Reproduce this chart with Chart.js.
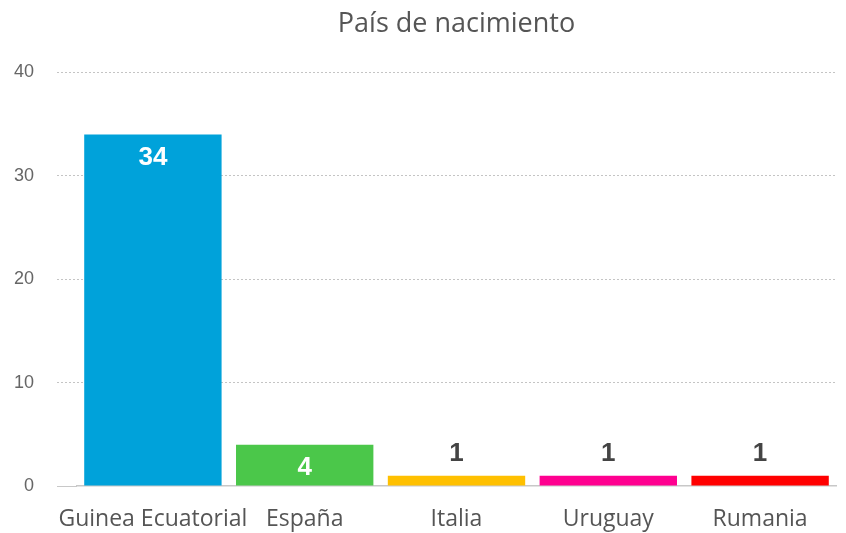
<!DOCTYPE html>
<html><head><meta charset="utf-8">
<script src="https://cdn.jsdelivr.net/npm/chart.js@4.4.0/dist/chart.umd.min.js"></script>
<style>html,body{margin:0;padding:0;background:#fff}#wrap{width:846px;height:533px}</style>
</head><body><div id="wrap"><canvas id="c" width="846" height="533"></canvas></div>
<script>
const categories = ["Guinea Ecuatorial", "España", "Italia", "Uruguay", "Rumania"];
const values = [34, 4, 1, 1, 1];
const barColors = ["#00A2DA", "#4BC74A", "#FFC000", "#FF0090", "#FF0000"];
const labelColors = ["#ffffff", "#ffffff", "#444444", "#444444", "#444444"];
const labelInside = [true, true, false, false, false];
const yTicks = [0, 10, 20, 30, 40];
const titleText = "País de nacimiento";

const valueLabels = {
  id: 'valueLabels',
  afterDatasetsDraw(chart) {
    const ctx = chart.ctx;
    const meta = chart.getDatasetMeta(0);
    ctx.save();
    ctx.font = 'bold 26px "Liberation Sans", Arial, sans-serif';
    ctx.textAlign = 'center';
    ctx.textBaseline = 'middle';
    meta.data.forEach((bar, i) => {
      ctx.fillStyle = labelColors[i];
      const y = labelInside[i] ? bar.y + 23 : bar.y - 22;
      ctx.fillText(String(values[i]), bar.x, y);
    });
    ctx.restore();
  }
};

new Chart(document.getElementById('c'), {
  type: 'bar',
  data: {
    labels: categories,
    datasets: [{ data: values, backgroundColor: barColors, borderWidth: 0,
      categoryPercentage: 1.0, barPercentage: 0.905 }]
  },
  options: {
    responsive: false,
    animation: false,
    devicePixelRatio: 1,
    layout: { padding: { left: 0, right: 10, top: 8, bottom: 0 } },
    plugins: {
      legend: { display: false },
      tooltip: { enabled: false },
      title: {
        display: true, text: titleText, fullSize: false,
        color: '#555555',
        font: { family: '"Open Sans", sans-serif', size: 27, weight: 'normal' },
        padding: { top: 0, bottom: 32 }
      }
    },
    scales: {
      x: {
        afterFit(axis) { axis.height = 47; },
        grid: { display: false },
        border: { display: true, color: '#c8c8c8', width: 1.5 },
        ticks: { color: '#555555', padding: 12, maxRotation: 0, minRotation: 0, autoSkip: false,
          font: { family: '"Open Sans", sans-serif', size: 23 } }
      },
      y: {
        min: 0, max: 40,
        afterBuildTicks(axis) { axis.ticks = yTicks.map(v => ({ value: v })); },
        afterFit(axis) { axis.width = 77; },
        border: { display: false, dash: [2, 2] },
        grid: {
          color: (c) => c.tick && c.tick.value === 0 ? 'rgba(0,0,0,0)' : '#c4c4c4',
          tickColor: (c) => c.tick && c.tick.value === 0 ? '#c8c8c8' : '#c4c4c4',
          borderDash: [2, 2],
          tickBorderDash: (c) => c.tick && c.tick.value === 0 ? [] : [2, 2],
          tickLength: 20, lineWidth: 1
        },
        ticks: { color: '#666666', padding: 23,
          font: { family: '"Liberation Sans", Arial, sans-serif', size: 18 } }
      }
    }
  },
  plugins: [valueLabels]
});
</script></body></html>
